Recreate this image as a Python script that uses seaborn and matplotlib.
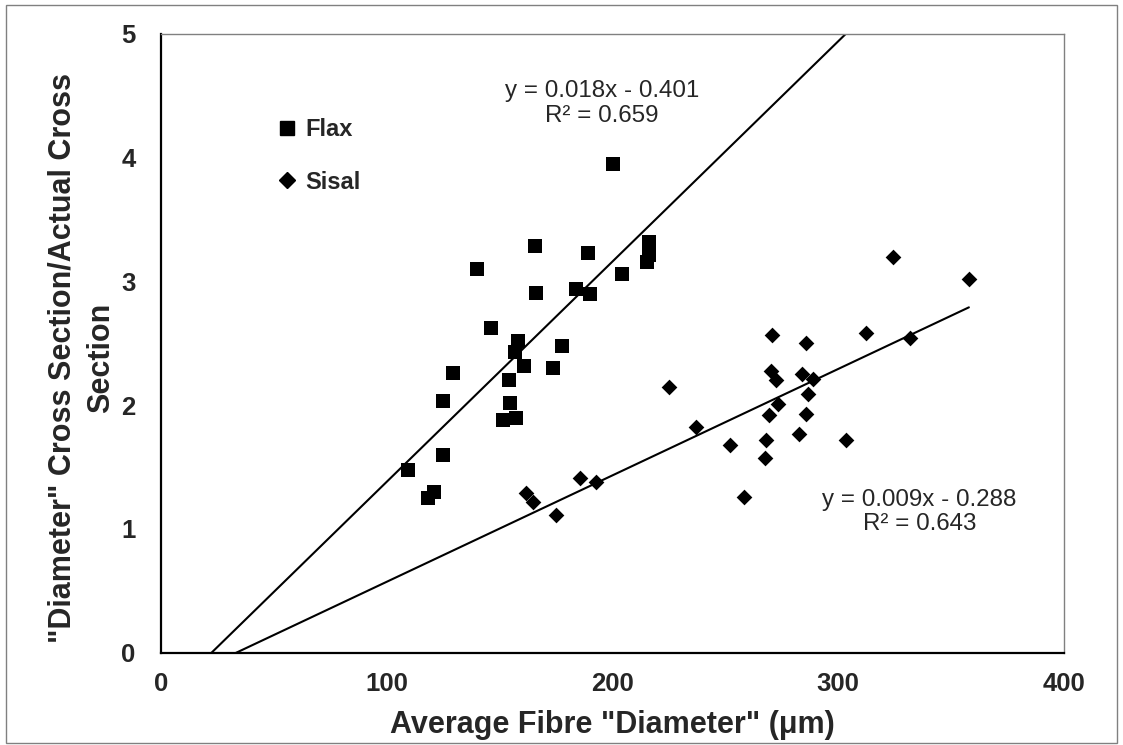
import numpy as np
import pandas as pd
import matplotlib
matplotlib.use("Agg")
import matplotlib.pyplot as plt
import seaborn as sns
from matplotlib.lines import Line2D
from matplotlib.patches import Rectangle

# data
flax_x = [200.2, 165.8, 189.4, 216.4, 216.2, 215.4, 140.0, 204.2, 166.2, 183.8,
          190.2, 146.2, 158.4, 156.9, 177.6, 160.9, 173.8, 129.5, 154.2, 124.9,
          154.6, 151.5, 157.3, 124.9, 109.4, 121.1, 118.3]
flax_y = [3.95, 3.29, 3.23, 3.32, 3.21, 3.16, 3.10, 3.06, 2.91, 2.94,
          2.90, 2.62, 2.52, 2.43, 2.48, 2.32, 2.30, 2.26, 2.20, 2.03,
          2.02, 1.88, 1.90, 1.60, 1.48, 1.30, 1.25]

sisal_x = [324.5, 358.0, 270.8, 285.7, 312.3, 331.8, 270.3, 272.4, 284.2, 288.8,
           225.0, 286.9, 273.6, 269.6, 285.7, 237.3, 252.2, 268.1, 282.6, 303.7,
           267.8, 258.4, 185.7, 192.7, 161.7, 164.8, 175.1]
sisal_y = [3.20, 3.02, 2.57, 2.50, 2.58, 2.54, 2.28, 2.20, 2.25, 2.21,
           2.15, 2.09, 2.01, 1.92, 1.93, 1.82, 1.68, 1.72, 1.77, 1.72,
           1.57, 1.26, 1.41, 1.38, 1.29, 1.22, 1.11]

# trendline coefficients (slope, intercept)
flax_fit = [0.0178, -0.401]
sisal_fit = [0.0086, -0.288]

flax_eq = "y = 0.018x - 0.401\nR² = 0.659"
sisal_eq = "y = 0.009x - 0.288\nR² = 0.643"

sns.set_style("white")
plt.rcParams['font.family'] = ['Liberation Sans', 'DejaVu Sans']

fig = plt.figure(figsize=(11.23, 7.45), dpi=100)
ax = fig.add_axes([0.1431, 0.1239, 0.8041, 0.8305])

df_flax = pd.DataFrame({"x": flax_x, "y": flax_y})
df_sisal = pd.DataFrame({"x": sisal_x, "y": sisal_y})

sns.scatterplot(data=df_flax, x="x", y="y", marker="s", color="black", s=92,
                linewidth=0, ax=ax, legend=False)
sns.scatterplot(data=df_sisal, x="x", y="y", marker="D", color="black", s=64,
                linewidth=0, ax=ax, legend=False)

# trendlines
xf = np.linspace(0, 400, 200)
ax.plot(xf, flax_fit[0] * xf + flax_fit[1], color="black", lw=1.5)
xs = np.linspace(0, max(sisal_x), 200)
ax.plot(xs, sisal_fit[0] * xs + sisal_fit[1], color="black", lw=1.5)

ax.set_xlim(0, 400)
ax.set_ylim(0, 5)
ax.set_xticks([0, 100, 200, 300, 400])
ax.set_yticks([0, 1, 2, 3, 4, 5])
ax.tick_params(direction="in", length=6, width=1, labelsize=18.5, pad=14)
ax.tick_params(axis="y", pad=18)
for lab in ax.get_xticklabels() + ax.get_yticklabels():
    lab.set_fontweight("bold")

for s in ["left", "bottom"]:
    ax.spines[s].set_color("black")
    ax.spines[s].set_linewidth(1.6)
for s in ["top", "right"]:
    ax.spines[s].set_color("#808080")
    ax.spines[s].set_linewidth(1.0)

ax.set_xlabel("")
ax.set_ylabel("")

ax.text(195.5, 4.44, flax_eq, ha="center", va="center", fontsize=17.4,
        linespacing=1.15)
ax.text(336.1, 1.137, sisal_eq, ha="center", va="center", fontsize=17.4,
        linespacing=1.15)

handles = [Line2D([], [], marker="s", color="black", ls="none", markersize=9.6),
           Line2D([], [], marker="D", color="black", ls="none", markersize=8)]
ax.legend(handles, ["Flax", "Sisal"], loc="upper left",
          bbox_to_anchor=(0.129, 0.864), frameon=False, borderpad=0,
          borderaxespad=0, handlelength=0.8, handletextpad=0.4,
          labelspacing=1.25, prop={"weight": "bold", "size": 17})

fig.text(0.5455, 0.027, 'Average Fibre "Diameter" (μm)', ha="center",
         va="center", fontsize=22, fontweight="bold")
fig.text(0.073, 0.519, '"Diameter" Cross Section/Actual Cross\nSection',
         ha="center", va="center", rotation=90, fontsize=22,
         fontweight="bold", linespacing=1.35, multialignment="center")

fig.patches.append(Rectangle((0.005, 0.003), 0.99, 0.99, transform=fig.transFigure,
                             fill=False, edgecolor="#808080", lw=1))

fig.savefig("out.png", dpi=100)
